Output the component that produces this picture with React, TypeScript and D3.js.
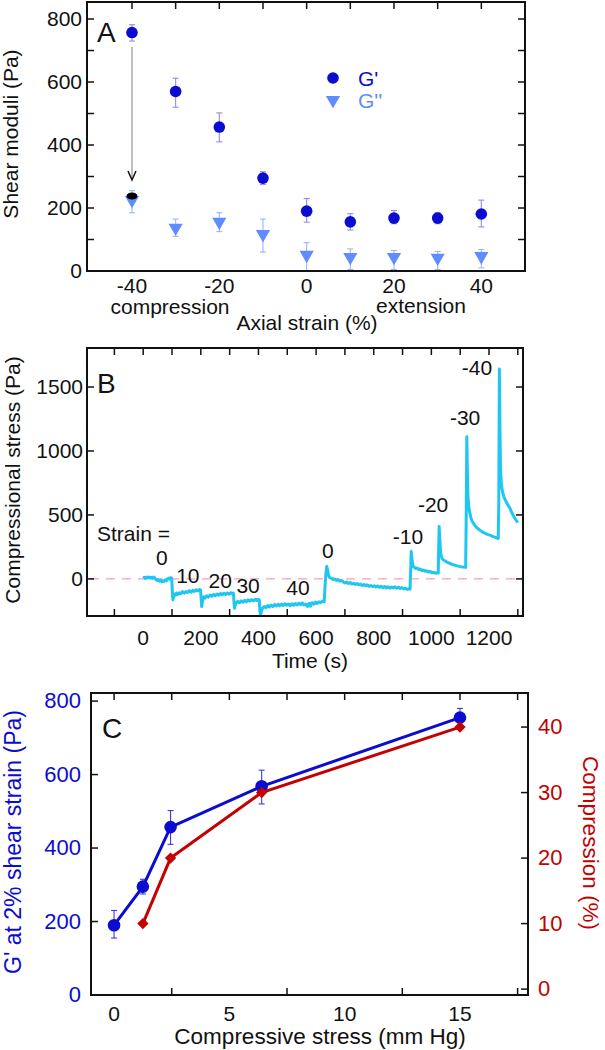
import React, { useRef, useEffect } from "react";
import { select, scaleLinear, line, symbol, symbolTriangle, symbolSquare, range } from "d3";

const FONT = "'Liberation Sans', Arial, sans-serif";

// panel A: shear moduli vs axial strain
const strainA = [-40, -30, -20, -10, 0, 10, 20, 30, 40];
const gPrime = [757, 570, 457, 295, 190, 156, 168, 168, 181];
const gPrimeLo = [730, 520, 410, 275, 155, 130, 150, 150, 140];
const gPrimeHi = [782, 612, 502, 315, 230, 182, 192, 185, 225];
const gDouble = [225, 137, 156, 117, 51, 44, 44, 42, 47];
const gDoubleLo = [185, 110, 125, 60, 0, 5, 5, 5, 10];
const gDoubleHi = [255, 165, 185, 165, 90, 70, 65, 62, 68];
const recovered = { strain: -40, value: 238, arrowFrom: 711, arrowTo: 289 };
const ticksA_y = [0, 200, 400, 600, 800];
const ticksA_x = [-40, -20, 0, 20, 40];

// panel B: stress trace, [time s, stress Pa]
const stressTrace: [number, number][] = [
  [0, 6], [4, 12], [8, 4], [12, 14], [16, 8], [20, 15], [24, 6], [28, 12], [32, 4], [36, 14], [40, 8], [44, -4], [48, -12], [52, -6], [56, -18], [60, -10], [64, -22], [68, -14], [72, -20], [76, -8], [80, -16], [84, 0], [88, 6], [92, -2], [96, 10], [99, 4],
  [101, -90], [103, -164], [106, -135], [109, -118], [112, -128], [116, -110], [120, -122], [125, -108], [130, -116], [136, -100], [142, -112], [148, -98], [154, -106], [160, -92], [166, -104], [172, -90], [178, -98], [184, -86], [190, -94], [196, -82], [199, -88],
  [201, -150], [203, -216], [206, -170], [210, -140], [215, -150], [220, -132], [226, -142], [232, -126], [238, -136], [244, -122], [250, -132], [256, -118], [262, -128], [268, -114], [274, -124], [280, -112], [286, -122], [292, -110], [298, -120], [304, -108], [310, -116], [313, -110],
  [315, -180], [317, -230], [320, -200], [324, -185], [328, -176], [334, -186], [340, -172], [346, -182], [352, -168], [358, -178], [364, -164], [370, -174], [376, -162], [382, -172], [388, -160], [394, -168], [400, -160], [403, -170],
  [405, -250], [407, -282], [410, -255], [414, -230], [420, -216], [426, -226], [432, -208], [438, -220], [444, -204], [450, -216], [456, -200], [462, -212], [468, -198], [474, -210], [480, -196], [486, -208], [492, -194], [498, -206], [504, -196], [510, -210], [516, -194], [522, -206], [528, -192], [534, -204], [540, -190], [546, -202], [552, -188], [558, -204], [564, -196], [570, -216], [576, -190], [580, -214], [586, -186], [592, -198], [598, -182], [604, -192], [610, -178], [616, -186], [622, -174], [628, -180],
  [631, -60], [634, 40], [637, 97], [640, 70], [643, 30], [647, 10], [652, 8], [658, -4], [664, 0], [670, -12], [676, -6], [682, -18], [688, -12], [694, -24], [700, -32], [706, -24], [712, -36], [718, -28], [724, -40], [730, -34], [736, -44], [742, -36], [748, -46], [754, -40], [760, -52], [766, -44], [772, -54], [778, -46], [784, -58], [790, -52], [796, -60], [802, -54], [808, -64], [814, -56], [820, -66], [826, -58], [832, -68], [838, -60], [844, -70], [850, -62], [856, -72], [862, -64], [868, -70], [874, -62], [880, -72], [886, -66], [892, -74], [898, -68], [904, -78], [910, -72], [916, -82], [922, -76], [926, -80],
  [928, 60], [930, 214], [933, 150], [936, 100], [940, 92], [945, 82], [950, 86], [955, 74], [960, 78], [966, 66], [972, 70], [978, 60], [984, 64], [990, 54], [996, 58], [1002, 48], [1008, 52], [1014, 44], [1020, 50], [1024, 46],
  [1025, 200], [1027, 409], [1030, 280], [1033, 190], [1037, 160], [1042, 148], [1048, 140], [1054, 132], [1060, 126], [1066, 120], [1072, 114], [1078, 110], [1084, 106], [1090, 102], [1096, 98], [1102, 96], [1108, 92], [1114, 94], [1119, 90],
  [1121, 500], [1123, 1111], [1125, 850], [1127, 650], [1130, 560], [1134, 510], [1138, 470], [1143, 445], [1150, 420], [1158, 400], [1166, 385], [1175, 370], [1185, 358], [1195, 348], [1205, 340], [1215, 330], [1225, 322], [1232, 316],
  [1234, 600], [1236, 1641], [1238, 1200], [1240, 850], [1243, 740], [1247, 680], [1252, 640], [1258, 610], [1265, 580], [1272, 555], [1280, 515], [1288, 480], [1295, 455], [1300, 440],
];
// strain annotations: label, time, stress (text anchor point)
const strainNotes: [string, number, number][] = [
  ["0", 65, 109], ["10", 155, -32], ["20", 267, -71], ["30", 364, -110], ["40", 537, -126],
  ["0", 641, 163], ["-10", 919, 273], ["-20", 1006, 523], ["-30", 1117, 1203], ["-40", 1158, 1594],
];
const ticksB_y = [0, 500, 1000, 1500];
const ticksB_x = [0, 200, 400, 600, 800, 1000, 1200];

// panel C: G' and compression vs compressive stress
const stressC = [0, 1.25, 2.45, 6.4, 15];
const gC = [190, 295, 457, 568, 755];
const gCLo = [155, 275, 410, 520, 730];
const gCHi = [230, 315, 502, 612, 780];
const stressComp = [1.25, 2.45, 6.4, 15];
const compression = [10, 20, 30, 40];
const ticksC_y = [0, 200, 400, 600, 800];
const ticksC_r = [0, 10, 20, 30, 40];
const ticksC_x = [0, 5, 10, 15];

const BLUE = "#0c0cd0";
const LIGHT = "#5f8cff";
const RED = "#c40000";
const TRACE = "#1ec6f2";

export default function App() {
  const svgRef = useRef<SVGSVGElement>(null);

  useEffect(() => {
    const svg = select(svgRef.current);
    svg.selectAll("*").remove();

    const frame = (x0: number, x1: number, y0: number, y1: number) =>
      svg.append("rect").attr("x", x0).attr("y", y0).attr("width", x1 - x0).attr("height", y1 - y0)
        .attr("fill", "none").attr("stroke", "#111").attr("stroke-width", 2);

    const hTicks = (xs: number[], y: number, len: number) =>
      svg.append("g").selectAll("line").data(xs).join("line")
        .attr("x1", d => d).attr("x2", d => d).attr("y1", y).attr("y2", y + len)
        .attr("stroke", "#111").attr("stroke-width", 1.5);

    const vTicks = (ys: number[], x: number, len: number) =>
      svg.append("g").selectAll("line").data(ys).join("line")
        .attr("y1", d => d).attr("y2", d => d).attr("x1", x).attr("x2", x + len)
        .attr("stroke", "#111").attr("stroke-width", 1.5);

    const text = (s: string, x: number, y: number, size: number, anchor = "middle", fill = "#111", rot = 0) => {
      const t = svg.append("text").attr("font-family", FONT).attr("font-size", size)
        .attr("text-anchor", anchor).attr("fill", fill).text(s);
      if (rot) t.attr("transform", `translate(${x},${y}) rotate(${rot})`);
      else t.attr("x", x).attr("y", y);
      return t;
    };

    const errBars = (xs: number[], lo: number[], hi: number[], color: string) => {
      const g = svg.append("g").attr("stroke", color).attr("stroke-width", 1.1);
      xs.forEach((x, i) => {
        g.append("line").attr("x1", x).attr("x2", x).attr("y1", lo[i]).attr("y2", hi[i]);
        g.append("line").attr("x1", x - 3).attr("x2", x + 3).attr("y1", lo[i]).attr("y2", lo[i]);
        g.append("line").attr("x1", x - 3).attr("x2", x + 3).attr("y1", hi[i]).attr("y2", hi[i]);
      });
    };

    const triDown = symbol(symbolTriangle, 88)();
    const diamond = symbol(symbolSquare, 64)();

    // ---------- panel A ----------
    const xA = scaleLinear().domain([-50.3, 50]).range([87, 525]);
    const yA = scaleLinear().domain([0, 854]).range([271, 2]);

    errBars(strainA.map(d => xA(d)), gDoubleLo.map(d => yA(d)), gDoubleHi.map(d => yA(d)), "#9db4ff");
    errBars(strainA.map(d => xA(d)), gPrimeLo.map(d => yA(d)), gPrimeHi.map(d => yA(d)), "#8c8cf5");

    svg.append("g").selectAll("path").data(strainA).join("path")
      .attr("d", triDown)
      .attr("transform", (d, i) => `translate(${xA(d)},${yA(gDouble[i])}) rotate(180)`)
      .attr("fill", LIGHT);
    svg.append("g").selectAll("circle").data(strainA).join("circle")
      .attr("cx", d => xA(d)).attr("cy", (d, i) => yA(gPrime[i])).attr("r", 5.8)
      .attr("fill", BLUE);

    // arrow from the -40 point down to the recovered value
    const ax = xA(recovered.strain);
    svg.append("line").attr("x1", ax).attr("x2", ax)
      .attr("y1", yA(recovered.arrowFrom)).attr("y2", yA(recovered.arrowTo))
      .attr("stroke", "#aaa").attr("stroke-width", 1.5);
    const tip = yA(recovered.arrowTo);
    svg.append("path").attr("d", `M${ax - 4},${tip - 9}L${ax},${tip}L${ax + 4},${tip - 9}`)
      .attr("fill", "none").attr("stroke", "#111").attr("stroke-width", 1.5);
    svg.append("ellipse").attr("cx", ax).attr("cy", yA(recovered.value)).attr("rx", 5.5).attr("ry", 3.5).attr("fill", "#000");

    frame(87, 525, 2, 271);
    vTicks(range(0, 900, 100).map(d => yA(d)), 87, 7);
    vTicks(range(0, 900, 100).map(d => yA(d)), 525, -7);
    hTicks(range(-40, 50, 10).map(d => xA(d)), 2, 7);
    ticksA_y.forEach(v => text(String(v), 82, yA(v) + 7, 21, "end"));
    ticksA_x.forEach(v => text(String(v), xA(v), 293, 21));

    text("A", 97, 42, 28, "start");
    svg.append("circle").attr("cx", 333).attr("cy", 78).attr("r", 5.8).attr("fill", BLUE);
    text("G'", 358, 86, 21, "start", BLUE);
    svg.append("path").attr("d", triDown).attr("transform", "translate(333,100) rotate(180)").attr("fill", LIGHT);
    text("G''", 358, 108, 21, "start", LIGHT);
    text("compression", 170, 314, 21);
    text("extension", 421, 313, 21);
    text("Axial strain (%)", 307, 330, 21);
    text("Shear moduli (Pa)", 18, 134, 21, "middle", "#111", -90);

    // ---------- panel B ----------
    const xB = scaleLinear().domain([-195, 1318]).range([87, 523]);
    const yB = scaleLinear().domain([-290, 1805]).range([616, 348]);

    svg.append("line").attr("x1", 90).attr("x2", 517).attr("y1", yB(0)).attr("y2", yB(0))
      .attr("stroke", "#f5a0bd").attr("stroke-width", 1.3).attr("stroke-dasharray", "9,7");

    const traceLine = line<[number, number]>().x(d => xB(d[0])).y(d => yB(d[1]));
    svg.append("path").datum(stressTrace).attr("d", traceLine)
      .attr("fill", "none").attr("stroke", TRACE).attr("stroke-width", 3)
      .attr("stroke-linejoin", "round");

    frame(87, 523, 348, 616);
    vTicks(ticksB_y.map(d => yB(d)), 87, 7);
    vTicks(ticksB_y.map(d => yB(d)), 523, -7);
    hTicks(range(-100, 1400, 100).map(d => xB(d)), 348, 7);
    hTicks(range(-100, 1400, 200).map(d => xB(d)), 616, -7);
    ticksB_y.forEach(v => text(String(v), 83, yB(v) + 7, 21, "end"));
    ticksB_x.forEach(v => text(String(v), xB(v), 645, 21));

    text("B", 97, 393, 28, "start");
    text("Strain =", 97, 541, 21, "start");
    strainNotes.forEach(([s, t, v]) => text(s, xB(t), yB(v), 21));
    text("Time (s)", 310, 668, 21);
    text("Compressional stress (Pa)", 20, 480, 21, "middle", "#111", -90);

    // ---------- panel C ----------
    const xC = scaleLinear().domain([-1, 17.95]).range([91, 528]);
    const yC = scaleLinear().domain([0, 822]).range([995, 693]);
    const yR = scaleLinear().domain([-0.9, 45.2]).range([995, 693]);

    errBars(stressC.map(d => xC(d)), gCLo.map(d => yC(d)), gCHi.map(d => yC(d)), "#3c3ce0");

    const blueLine = line<number>().x(d => xC(d)).y((d, i) => yC(gC[i]));
    svg.append("path").datum(stressC).attr("d", blueLine)
      .attr("fill", "none").attr("stroke", BLUE).attr("stroke-width", 3);
    svg.append("g").selectAll("circle").data(stressC).join("circle")
      .attr("cx", d => xC(d)).attr("cy", (d, i) => yC(gC[i])).attr("r", 6.3).attr("fill", BLUE);

    const redLine = line<number>().x(d => xC(d)).y((d, i) => yR(compression[i]));
    svg.append("path").datum(stressComp).attr("d", redLine)
      .attr("fill", "none").attr("stroke", RED).attr("stroke-width", 3);
    svg.append("g").selectAll("path").data(stressComp).join("path")
      .attr("d", diamond)
      .attr("transform", (d, i) => `translate(${xC(d)},${yR(compression[i])}) rotate(45)`)
      .attr("fill", RED);

    frame(91, 528, 693, 995);
    vTicks(ticksC_y.map(d => yC(d)), 91, 7);
    vTicks(ticksC_r.map(d => yR(d)), 528, -7);
    hTicks(range(0, 18, 2.5).map(d => xC(d)), 693, 7);
    hTicks([2.5, 7.5, 12.5, 17.5].map(d => xC(d)), 995, -7);
    ticksC_y.forEach(v => text(String(v), 81, yC(v) + 7, 22, "end", BLUE));
    ticksC_r.forEach(v => text(String(v), 538, yR(v) + 7, 22, "start", RED));
    ticksC_x.forEach(v => text(String(v), xC(v), 1021, 21));

    text("C", 102, 738, 28, "start");
    text("Compressive stress (mm Hg)", 320, 1044, 22.5);
    text("G' at 2% shear strain (Pa)", 21, 842, 23, "middle", BLUE, -90);
    text("Compression (%)", 583, 843, 22.5, "middle", RED, 90);
  }, []);

  return (
    <svg ref={svgRef} width={605} height={1050}
      style={{ position: "absolute", left: 0, top: 0, background: "#fff" }} />
  );
}
